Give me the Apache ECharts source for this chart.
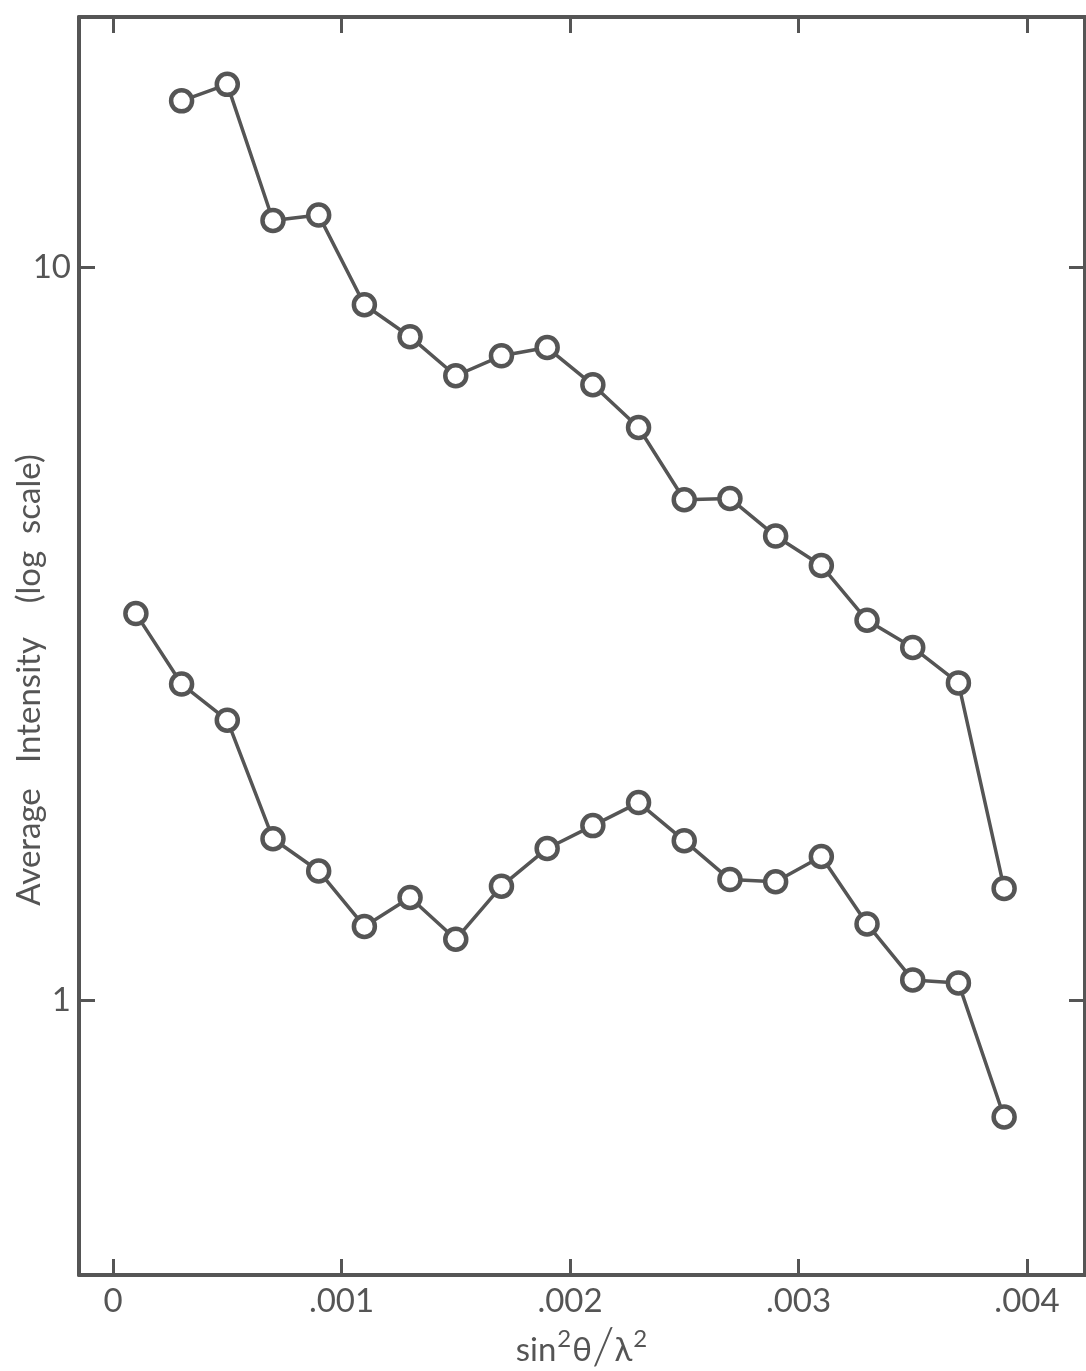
<!DOCTYPE html>
<html>
<head>
<meta charset="utf-8">
<script src="https://cdn.jsdelivr.net/npm/echarts@6/dist/echarts.min.js"></script>
<style>
html,body{margin:0;padding:0;background:#fff;}
#chart{width:1086px;height:1371px;}
</style>
</head>
<body>
<div id="chart"></div>
<script>
// Data
const xUpper = [0.0003,0.0005,0.0007,0.0009,0.0011,0.0013,0.0015,0.0017,0.0019,0.0021,0.0023,0.0025,0.0027,0.0029,0.0031,0.0033,0.0035,0.0037,0.0039];
const upperVals = [16.9,17.8,11.6,11.8,8.9,8.05,7.12,7.58,7.78,6.92,6.05,4.82,4.84,4.30,3.92,3.30,3.03,2.71,1.42];
const xLower = [0.0001,0.0003,0.0005,0.0007,0.0009,0.0011,0.0013,0.0015,0.0017,0.0019,0.0021,0.0023,0.0025,0.0027,0.0029,0.0031,0.0033,0.0035,0.0037,0.0039];
const lowerVals = [3.37,2.70,2.41,1.66,1.50,1.26,1.38,1.21,1.43,1.61,1.73,1.86,1.65,1.46,1.45,1.57,1.27,1.065,1.055,0.692];
const xTicks = [0,0.001,0.002,0.003,0.004];
const xTickLabels = ['0','.001','.002','.003','.004'];
const yTicks = [1,10];
const yTickLabels = ['1','10'];

const ink = '#555555';
const fontFam = 'Lato, "DejaVu Sans", sans-serif';

const xMin = -0.000149, xMax = 0.004254;
const yMin = 0.421, yMax = 22.0;

function pairs(xs, ys){ return xs.map((x,i)=>[x, ys[i]]); }

const chart = echarts.init(document.getElementById('chart'));
const lineStyle = {color: ink, width: 3.5};
const itemStyle = {color: '#fff', borderColor: ink, borderWidth: 4.5};

chart.setOption({
  animation: false,
  backgroundColor: '#fff',
  grid: {left: 79, right: 1, top: 17, bottom: 96, containLabel: false, outerBoundsMode: 'none'},
  xAxis: [
    {
      type: 'value', position: 'bottom', min: xMin, max: xMax,
      axisLine: {show: true, onZero: false, lineStyle: {color: ink, width: 4}},
      axisTick: {show: true, inside: true, length: 16, customValues: xTicks, lineStyle: {color: ink, width: 3}},
      axisLabel: {show: true, customValues: xTicks, margin: 10, color: ink, fontSize: 33, fontFamily: fontFam,
        formatter: function(v){ const i = xTicks.findIndex(t=>Math.abs(t-v)<1e-9); return i>=0 ? xTickLabels[i] : ''; }},
      splitLine: {show: false},
      name: '{a|sin}{s|2}{a|θ}{sl|/}{a|λ}{s|2}',
      nameLocation: 'middle', nameGap: 52, nameMoveOverlap: false,
      nameTextStyle: {
        rich: {
          a: {fontSize: 33, color: ink, fontFamily: fontFam, verticalAlign: 'bottom', lineHeight: 40},
          s: {fontSize: 24, color: ink, fontFamily: fontFam, verticalAlign: 'top', lineHeight: 40, padding: [0,1,16,1]},
          sl: {fontSize: 52, color: ink, fontFamily: fontFam, fontWeight: 300, lineHeight: 40}
        }
      }
    },
    {
      type: 'value', position: 'top', min: xMin, max: xMax,
      axisLine: {show: true, onZero: false, lineStyle: {color: ink, width: 4}},
      axisTick: {show: true, inside: true, length: 16, customValues: xTicks, lineStyle: {color: ink, width: 3}},
      axisLabel: {show: false},
      splitLine: {show: false}
    }
  ],
  yAxis: [
    {
      type: 'log', logBase: 10, position: 'left', min: yMin, max: yMax,
      axisLine: {show: true, onZero: false, lineStyle: {color: ink, width: 4}},
      axisTick: {show: true, inside: true, length: 16, customValues: yTicks, lineStyle: {color: ink, width: 3}},
      axisLabel: {show: true, customValues: yTicks, margin: 8, color: ink, fontSize: 33, fontFamily: fontFam,
        formatter: function(v){ const i = yTicks.findIndex(t=>Math.abs(t-v)<1e-6); return i>=0 ? yTickLabels[i] : ''; }},
      splitLine: {show: false},
      minorTick: {show: false},
      name: 'Average   Intensity    (log  scale)',
      nameLocation: 'middle', nameGap: 33, nameRotate: 90, nameMoveOverlap: false,
      nameTextStyle: {fontSize: 33, color: ink, fontFamily: fontFam, padding: [0, 68, 0, 0]}
    },
    {
      type: 'log', logBase: 10, position: 'right', min: yMin, max: yMax,
      axisLine: {show: true, onZero: false, lineStyle: {color: ink, width: 4}},
      axisTick: {show: true, inside: true, length: 16, customValues: yTicks, lineStyle: {color: ink, width: 3}},
      axisLabel: {show: false},
      splitLine: {show: false}
    }
  ],
  series: [
    {
      type: 'line', xAxisIndex: 0, yAxisIndex: 0,
      data: pairs(xUpper, upperVals),
      symbol: 'circle', symbolSize: 21, showAllSymbol: true,
      lineStyle: lineStyle, itemStyle: itemStyle, z: 3
    },
    {
      type: 'line', xAxisIndex: 0, yAxisIndex: 0,
      data: pairs(xLower, lowerVals),
      symbol: 'circle', symbolSize: 21, showAllSymbol: true,
      lineStyle: lineStyle, itemStyle: itemStyle, z: 3
    }
  ]
});
</script>
</body>
</html>
